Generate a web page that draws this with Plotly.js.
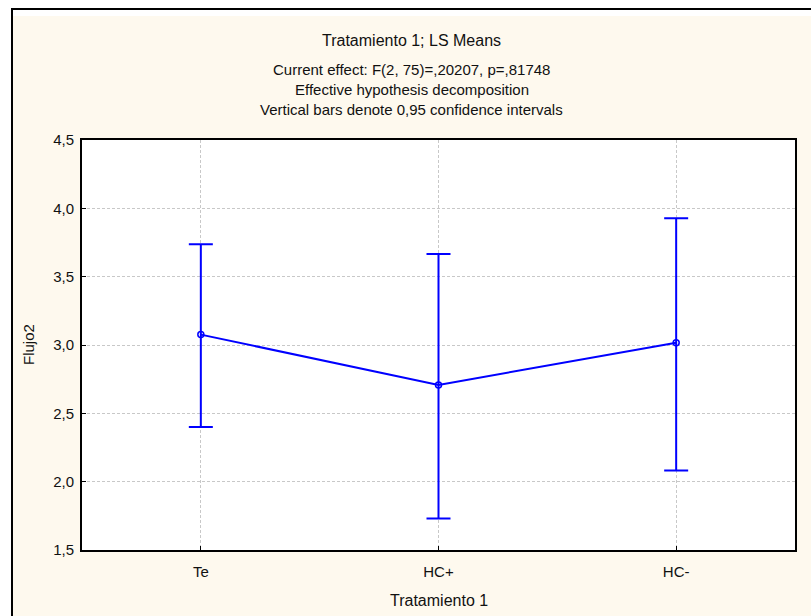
<!DOCTYPE html>
<html>
<head>
<meta charset="utf-8">
<script src="https://cdn.plot.ly/plotly-3.0.1.min.js"></script>
<style>
  html, body { margin: 0; padding: 0; background: #ffffff; width: 811px; height: 616px; overflow: hidden; }
  #frame { position: absolute; left: 11px; top: 8px; width: 810px; height: 620px;
           border-left: 2px solid #000; border-top: 2px solid #000; background: #FEF9EE; }
  #band { position: absolute; left: 13px; top: 10px; width: 800px; height: 6px; background: #ffffff; }
  #chart { position: absolute; left: 0; top: 0; width: 811px; height: 616px; }
</style>
</head>
<body>
<div id="frame"></div>
<div id="band"></div>
<div id="chart"></div>
<script>
// Data
const categories = ['Te', 'HC+', 'HC-'];
const means = [3.076, 2.708, 3.017];
const upper = [3.737, 3.666, 3.927];
const lower = [2.400, 1.730, 2.081];
const yTicks = [1.5, 2.0, 2.5, 3.0, 3.5, 4.0, 4.5];

const titleLines = [
  'Tratamiento 1; LS Means',
  'Current effect: F(2, 75)=,20207, p=,81748',
  'Effective hypothesis decomposition',
  'Vertical bars denote 0,95 confidence intervals'
];
const xTitle = 'Tratamiento 1';
const yTitle = 'Flujo2';

const errPlus = means.map((m, i) => upper[i] - m);
const errMinus = means.map((m, i) => m - lower[i]);

const FONT = '"Liberation Sans", Arial, sans-serif';
const BLUE = '#0000FF';

const trace = {
  type: 'scatter',
  mode: 'lines+markers',
  x: categories,
  y: means,
  line: { color: BLUE, width: 2 },
  marker: { symbol: 'circle-open', size: 6, color: BLUE, line: { width: 1.5, color: BLUE } },
  error_y: {
    type: 'data', symmetric: false,
    array: errPlus, arrayminus: errMinus,
    color: BLUE, thickness: 2, width: 12
  },
  hoverinfo: 'skip'
};

const titleY = [1.2415, 1.173, 1.123, 1.0756];
const titleSize = [16, 15, 15, 15];
const annotations = titleLines.map((t, i) => ({
  text: t, xref: 'paper', yref: 'paper', x: 0.4628, y: titleY[i],
  xanchor: 'center', yanchor: 'middle', showarrow: false,
  font: { family: FONT, size: titleSize[i], color: '#111' }
}));
annotations.push({
  text: xTitle, xref: 'paper', yref: 'paper', x: 0.5, y: -0.124,
  xanchor: 'center', yanchor: 'middle', showarrow: false,
  font: { family: FONT, size: 16, color: '#111' }
});
annotations.push({
  text: yTitle, xref: 'paper', yref: 'paper', x: -0.0757, y: 0.5,
  xanchor: 'center', yanchor: 'middle', textangle: -90, showarrow: false,
  font: { family: FONT, size: 15, color: '#111' }
});

const layout = {
  width: 811, height: 616,
  margin: { l: 82, r: 16, t: 140, b: 66 },
  paper_bgcolor: 'rgba(0,0,0,0)',
  plot_bgcolor: '#ffffff',
  separators: ',.',
  showlegend: false,
  font: { family: FONT, size: 15, color: '#111' },
  xaxis: {
    type: 'category', categoryorder: 'array', categoryarray: categories,
    range: [-0.5, 2.5],
    showline: true, linecolor: '#000', linewidth: 2, mirror: true,
    showgrid: true, gridcolor: '#C8C8C8', gridwidth: 1, griddash: '3px,2px',
    ticks: 'inside', ticklen: 4, tickcolor: '#000', tickwidth: 1,
    ticklabelstandoff: 7,
    tickfont: { family: FONT, size: 15, color: '#111' },
    zeroline: false, fixedrange: true
  },
  yaxis: {
    range: [1.5, 4.5],
    tickmode: 'array', tickvals: yTicks, tickformat: '.1f',
    showline: true, linecolor: '#000', linewidth: 2, mirror: true,
    showgrid: true, gridcolor: '#C8C8C8', gridwidth: 1, griddash: '3px,2px',
    ticks: 'inside', ticklen: 4, tickcolor: '#000', tickwidth: 1,
    ticklabelstandoff: 3,
    tickfont: { family: FONT, size: 15, color: '#111' },
    zeroline: false, fixedrange: true
  },
  annotations: annotations
};

Plotly.newPlot('chart', [trace], layout, { staticPlot: true, displayModeBar: false });
</script>
</body>
</html>
